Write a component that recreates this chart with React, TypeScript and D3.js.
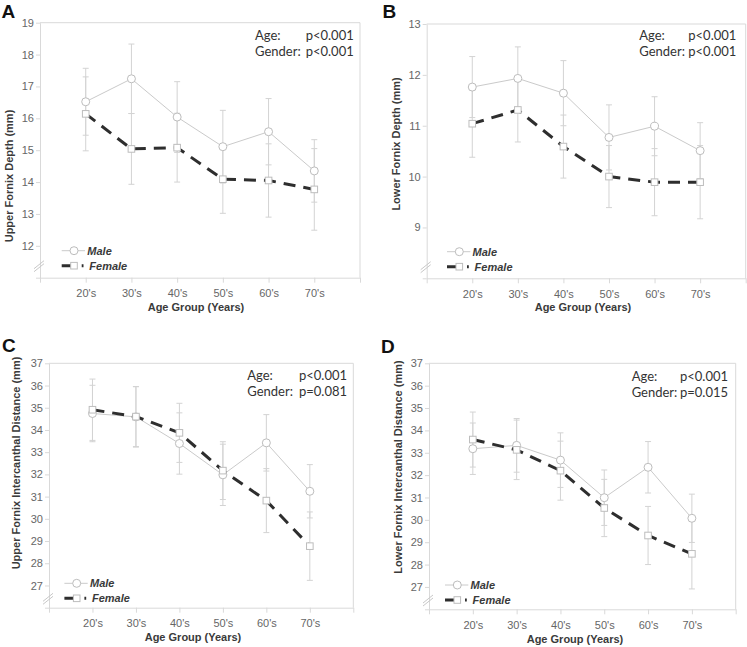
import React, { useEffect, useRef } from 'react';
import * as d3 from 'd3';

// categories
const ageGroups = ["20's", "30's", "40's", "50's", "60's", "70's"];

// A - upper fornix depth (mm)
const upperDepthMale = [16.52, 17.24, 16.04, 15.11, 15.58, 14.35];
const upperDepthMaleSD = [1.05, 1.09, 1.11, 1.14, 1.04, 0.98];
const upperDepthFemale = [16.14, 15.04, 15.08, 14.09, 14.05, 13.77];
const upperDepthFemaleSD = [1.16, 1.11, 1.08, 1.07, 1.15, 1.28];

// B - lower fornix depth (mm)
const lowerDepthMale = [11.76, 11.93, 11.64, 10.77, 10.99, 10.51];
const lowerDepthMaleSD = [0.6, 0.62, 0.64, 0.64, 0.58, 0.55];
const lowerDepthFemale = [11.04, 11.31, 10.59, 10.0, 9.89, 9.89];
const lowerDepthFemaleSD = [0.66, 0.63, 0.62, 0.61, 0.66, 0.72];

// C - upper fornix intercanthal distance (mm)
const upperICDMale = [34.74, 34.59, 33.39, 31.98, 33.42, 31.24];
const upperICDMaleSD = [1.27, 1.36, 1.38, 1.38, 1.27, 1.2];
const upperICDFemale = [34.91, 34.6, 33.87, 32.17, 30.82, 28.77];
const upperICDFemaleSD = [1.38, 1.35, 1.33, 1.3, 1.44, 1.54];

// D - lower fornix intercanthal distance (mm)
const lowerICDMale = [33.18, 33.33, 32.67, 30.99, 32.35, 30.07];
const lowerICDMaleSD = [1.15, 1.2, 1.22, 1.24, 1.15, 1.08];
const lowerICDFemale = [33.59, 33.13, 32.2, 30.53, 29.3, 28.48];
const lowerICDFemaleSD = [1.23, 1.33, 1.32, 1.28, 1.3, 1.57];

const agePValues = ['p<0.001', 'p<0.001', 'p<0.001', 'p<0.001'];
const genderPValues = ['p<0.001', 'p<0.001', 'p=0.081', 'p=0.015'];

const panels = [
  {
    letter: 'A', left: 40, right: 360, top: 22.7, bottom: 277.7, yMin: 11, yMax: 19,
    title: 'Upper Fornix Depth (mm)', titleX: 13, titleY: 176, xTitleX: 196, xTitleY: 311,
    letterX: 1.5, letterY: 18.3, annX: 255, pX: 305.7, annY: 40, legDx: 34, legUp: 27,
    male: upperDepthMale, maleSD: upperDepthMaleSD, female: upperDepthFemale, femaleSD: upperDepthFemaleSD,
  },
  {
    letter: 'B', left: 426.7, right: 745.7, top: 24, bottom: 278.3, yMin: 8, yMax: 13,
    title: 'Lower Fornix Depth (mm)', titleX: 400, titleY: 144, xTitleX: 583, xTitleY: 311,
    letterX: 382.5, letterY: 18.3, annX: 639.3, pX: 688.3, annY: 40, legDx: 32.6, legUp: 26.6,
    male: lowerDepthMale, maleSD: lowerDepthMaleSD, female: lowerDepthFemale, femaleSD: lowerDepthFemaleSD,
  },
  {
    letter: 'C', left: 49, right: 353.3, top: 363.3, bottom: 607.7, yMin: 26, yMax: 37,
    title: 'Upper Fornix Intercanthal Distance (mm)', titleX: 20, titleY: 463, xTitleX: 193, xTitleY: 641,
    letterX: 2, letterY: 351.7, annX: 247.3, pX: 299, annY: 380, legDx: 27.7, legUp: 24.4,
    male: upperICDMale, maleSD: upperICDMaleSD, female: upperICDFemale, femaleSD: upperICDFemaleSD,
  },
  {
    letter: 'D', left: 429, right: 735.7, top: 363.3, bottom: 609.3, yMin: 26, yMax: 37,
    title: 'Lower Fornix Intercanthal Distance (mm)', titleX: 402, titleY: 467, xTitleX: 575, xTitleY: 643,
    letterX: 381, letterY: 353, annX: 631.7, pX: 680, annY: 380.7, legDx: 28.3, legUp: 24.3,
    male: lowerICDMale, maleSD: lowerICDMaleSD, female: lowerICDFemale, femaleSD: lowerICDFemaleSD,
  },
];

const axisColor = '#d9d9d9';
const barColor = '#d3d3d3';
const maleColor = '#cacaca';
const markerStroke = '#bdbdbd';
const femaleColor = '#2e2e2e';
const labelFont = '"Liberation Sans", Arial, sans-serif';
const annFont = 'Lato, "Open Sans", sans-serif';

function drawPanel(svg: any, p: any, idx: number) {
  const x = d3.scaleLinear().domain([0, ageGroups.length + 1]).range([p.left, p.right]);
  const y = d3.scaleLinear().domain([p.yMin, p.yMax]).range([p.bottom, p.top]);
  const g = svg.append('g');

  // top and right borders
  g.append('line').attr('x1', p.left).attr('x2', p.right).attr('y1', p.top).attr('y2', p.top)
    .attr('stroke', axisColor);
  g.append('line').attr('x1', p.right).attr('x2', p.right).attr('y1', p.top).attr('y2', p.bottom)
    .attr('stroke', axisColor);

  // y axis
  const yAxis = d3.axisLeft(y)
    .tickValues(d3.range(p.yMin, p.yMax + 1))
    .tickSize(4).tickSizeOuter(0).tickPadding(2)
    .tickFormat((d: any) => (d === p.yMin ? '' : String(d)));
  const ya = g.append('g').attr('transform', `translate(${p.left},0)`).call(yAxis);

  // x axis
  const xAxis = d3.axisBottom(x)
    .tickValues(d3.range(0, ageGroups.length + 2))
    .tickSize(5).tickSizeOuter(0).tickPadding(6.5)
    .tickFormat((d: any) => ageGroups[d - 1] || '');
  const xa = g.append('g').attr('transform', `translate(0,${p.bottom})`).call(xAxis);

  [ya, xa].forEach((a: any) => {
    a.select('.domain').attr('stroke', axisColor);
    a.selectAll('.tick line').attr('stroke', axisColor);
    a.selectAll('.tick text').attr('fill', '#666').style('font-family', labelFont).style('font-size', '11px');
  });

  // axis break
  const by = p.bottom - p.legUp + 15;
  [0, 3].forEach((o) => {
    g.append('line')
      .attr('x1', p.left - 6).attr('y1', by + 3 + o)
      .attr('x2', p.left + 4).attr('y2', by - 5 + o)
      .attr('stroke', '#c8c8c8');
  });

  // axis titles
  g.append('text')
    .attr('transform', `translate(${p.titleX},${p.titleY}) rotate(-90)`)
    .attr('text-anchor', 'middle')
    .style('font-family', labelFont).style('font-size', '11px').style('font-weight', 'bold')
    .attr('fill', '#3a3a3a').text(p.title);
  g.append('text')
    .attr('x', p.xTitleX).attr('y', p.xTitleY)
    .attr('text-anchor', 'middle')
    .style('font-family', labelFont).style('font-size', '11px').style('font-weight', 'bold')
    .attr('fill', '#3a3a3a').text('Age Group (Years)');

  // panel letter
  g.append('text').attr('x', p.letterX).attr('y', p.letterY)
    .style('font-family', labelFont).style('font-size', '19px').style('font-weight', 'bold')
    .attr('fill', '#111').text(p.letter);

  // statistics
  const ann = [['Age:', agePValues[idx]], ['Gender:', genderPValues[idx]]];
  ann.forEach((row, i) => {
    g.append('text').attr('x', p.annX).attr('y', p.annY + i * 16)
      .style('font-family', annFont).style('font-size', '13px').attr('fill', '#333').text(row[0]);
    g.append('text').attr('x', p.pX).attr('y', p.annY + i * 16)
      .style('font-family', annFont).style('font-size', '13px').attr('fill', '#333').text(row[1]);
  });

  // error bars
  const series = [
    { m: p.male, sd: p.maleSD },
    { m: p.female, sd: p.femaleSD },
  ];
  series.forEach((s) => {
    s.m.forEach((v: number, i: number) => {
      const cx = x(i + 1);
      const lo = y(v - s.sd[i]);
      const hi = y(v + s.sd[i]);
      g.append('line').attr('x1', cx).attr('x2', cx).attr('y1', lo).attr('y2', hi).attr('stroke', barColor);
      [lo, hi].forEach((yy) => {
        g.append('line').attr('x1', cx - 3).attr('x2', cx + 3).attr('y1', yy).attr('y2', yy).attr('stroke', barColor);
      });
    });
  });

  const line = d3.line<number>().x((d, i) => x(i + 1)).y((d) => y(d));

  // male
  g.append('path').attr('d', line(p.male)).attr('fill', 'none').attr('stroke', maleColor).attr('stroke-width', 1);
  g.selectAll('.mk-m').data(p.male).enter().append('circle')
    .attr('cx', (d: number, i: number) => x(i + 1)).attr('cy', (d: number) => y(d)).attr('r', 4)
    .attr('fill', '#fff').attr('stroke', markerStroke);

  // female
  g.append('path').attr('d', line(p.female)).attr('fill', 'none').attr('stroke', femaleColor)
    .attr('stroke-width', 3).attr('stroke-dasharray', '12,8');
  g.selectAll('.mk-f').data(p.female).enter().append('rect')
    .attr('x', (d: number, i: number) => x(i + 1) - 3.3).attr('y', (d: number) => y(d) - 3.3)
    .attr('width', 6.6).attr('height', 6.6)
    .attr('fill', '#fff').attr('stroke', markerStroke);

  // legend
  const lx = p.left + p.legDx;
  const my = p.bottom - p.legUp;
  const fy = my + 15;
  g.append('line').attr('x1', lx - 12.3).attr('x2', lx + 11).attr('y1', my).attr('y2', my).attr('stroke', maleColor);
  g.append('circle').attr('cx', lx).attr('cy', my).attr('r', 4).attr('fill', '#fff').attr('stroke', markerStroke);
  g.append('text').attr('x', lx + 13.3).attr('y', my + 4)
    .style('font-family', labelFont).style('font-size', '11px').style('font-weight', 'bold').style('font-style', 'italic')
    .attr('fill', '#3a3a3a').text('Male');
  g.append('line').attr('x1', lx - 12.3).attr('x2', lx + 9.5).attr('y1', fy).attr('y2', fy)
    .attr('stroke', femaleColor).attr('stroke-width', 3).attr('stroke-dasharray', '12,8');
  g.append('rect').attr('x', lx - 3.3).attr('y', fy - 3.3).attr('width', 6.6).attr('height', 6.6)
    .attr('fill', '#fff').attr('stroke', markerStroke);
  g.append('text').attr('x', lx + 15.3).attr('y', fy + 4)
    .style('font-family', labelFont).style('font-size', '11px').style('font-weight', 'bold').style('font-style', 'italic')
    .attr('fill', '#3a3a3a').text('Female');
}

function App() {
  const ref = useRef<SVGSVGElement>(null);

  useEffect(() => {
    const svg = d3.select(ref.current);
    svg.selectAll('*').remove();
    panels.forEach((p, i) => drawPanel(svg, p, i));
  }, []);

  return (
    <svg
      ref={ref}
      width={747}
      height={647}
      style={{ position: 'absolute', left: 0, top: 0, background: '#fff' }}
    />
  );
}

export default App;
